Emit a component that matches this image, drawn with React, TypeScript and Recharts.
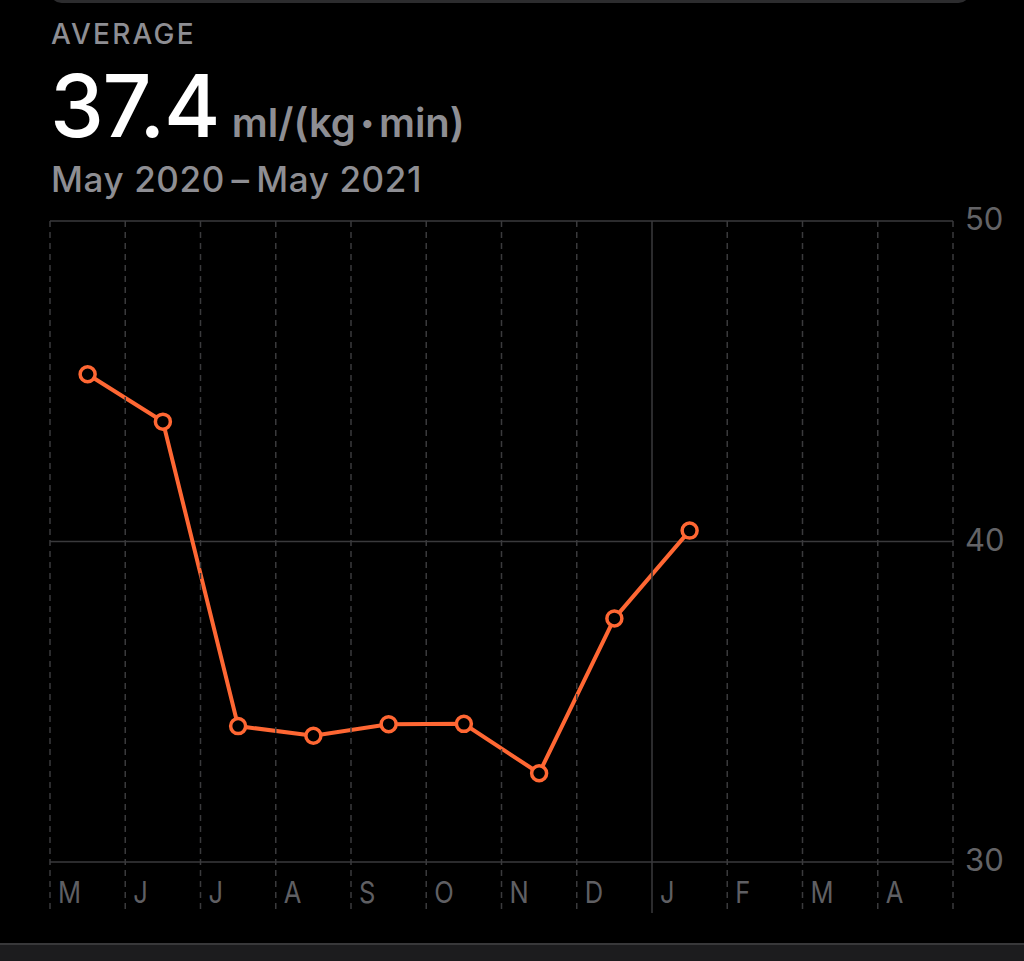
import { LineChart, Line, XAxis, YAxis, CartesianGrid } from "recharts";

const monthLabels = ["M", "J", "J", "A", "S", "O", "N", "D", "J", "F", "M", "A"];
const vo2Values = [45.22, 43.74, 34.24, 33.94, 34.3, 34.31, 32.77, 37.6, 40.34];
const yTicks = [30, 40, 50];

const data = monthLabels.map((m, i) => ({
  pos: i + 0.5,
  month: m,
  value: i < vo2Values.length ? vo2Values[i] : null,
}));

const ORANGE = "#ff6733";
const GRAY = "#8e8e93";
const PLOT_TOP = 221;

const MonthTick = (props: any) => {
  const { x, payload } = props;
  const i = payload.value;
  const isYearStart = i === 8;
  const bottom = isYearStart ? 913 : 910;
  const tx = x + 8;
  return (
    <g>
      <line
        x1={x}
        x2={x}
        y1={PLOT_TOP}
        y2={bottom}
        stroke="#3a3a3c"
        strokeWidth={1.5}
        strokeDasharray={isYearStart ? undefined : "6 5"}
      />
      {i < monthLabels.length && (
        <text
          x={tx}
          y={895}
          fill="#5f5f63"
          fontSize={30}
          fontFamily="Inter, 'Noto Sans', sans-serif"
          dominantBaseline="middle"
          transform={`translate(${tx} 0) scale(0.85 1) translate(${-tx} 0)`}
        >
          {monthLabels[i]}
        </text>
      )}
    </g>
  );
};

const ValueTick = (props: any) => {
  const { y, payload } = props;
  return (
    <text
      x={965}
      y={y + 1}
      fill="#636366"
      fontSize={31}
      fontFamily="Inter, 'Noto Sans', sans-serif"
      dominantBaseline="middle"
    >
      {payload.value}
    </text>
  );
};

const Dot = (props: any) => {
  const { cx, cy, value } = props;
  if (value == null || cx == null || cy == null) return null;
  return <circle cx={cx} cy={cy} r={7.5} fill="#000" stroke={ORANGE} strokeWidth={3.5} />;
};

export default function App() {
  return (
    <div
      style={{
        position: "absolute",
        left: 0,
        top: 0,
        width: 1024,
        height: 961,
        background: "#000",
        overflow: "hidden",
        fontFamily: "Inter, 'Noto Sans', sans-serif",
      }}
    >
      <div
        style={{
          position: "absolute",
          left: 50,
          top: -20,
          width: 920,
          height: 23,
          borderRadius: 14,
          background: "#2c2c2e",
        }}
      />
      <div
        style={{
          position: "absolute",
          left: 51,
          top: 18,
          fontSize: 28,
          fontWeight: 500,
          color: GRAY,
          letterSpacing: 2.2,
          lineHeight: 1.2,
        }}
      >
        AVERAGE
      </div>
      <div
        style={{
          position: "absolute",
          left: 50,
          top: 63,
          display: "flex",
          alignItems: "baseline",
          lineHeight: 1,
        }}
      >
        <span style={{ fontSize: 86, fontWeight: 500, color: "#fff", letterSpacing: -1.5 }}>37.4</span>
        <span style={{ fontSize: 40, fontWeight: 600, color: GRAY, marginLeft: 13 }}>
          ml/(kg<span style={{ fontSize: 26, margin: "0 5px", verticalAlign: "20%" }}>•</span>min)
        </span>
      </div>
      <div
        style={{
          position: "absolute",
          left: 51,
          top: 162,
          fontSize: 35,
          fontWeight: 500,
          color: GRAY,
          letterSpacing: 0.6,
          lineHeight: 1,
        }}
      >
        May 2020{"\u2009"}–{"\u2009"}May 2021
      </div>
      <div style={{ position: "absolute", left: 0, top: 0 }}>
        <LineChart
          width={1024}
          height={961}
          data={data}
          margin={{ top: PLOT_TOP, right: 0, left: 50, bottom: 39 }}
        >
          <CartesianGrid vertical={false} stroke="#3a3a3c" strokeWidth={1.5} />
          <XAxis
            dataKey="pos"
            type="number"
            domain={[0, 12]}
            ticks={[0, 1, 2, 3, 4, 5, 6, 7, 8, 9, 10, 11, 12]}
            interval={0}
            axisLine={false}
            tickLine={false}
            height={60}
            tick={<MonthTick />}
          />
          <YAxis
            orientation="right"
            type="number"
            domain={[30, 50]}
            ticks={yTicks}
            width={71}
            axisLine={false}
            tickLine={false}
            tick={<ValueTick />}
          />
          <Line
            dataKey="value"
            stroke={ORANGE}
            strokeWidth={4}
            dot={<Dot />}
            activeDot={false}
            isAnimationActive={false}
            connectNulls={false}
          />
        </LineChart>
      </div>
      <div
        style={{
          position: "absolute",
          left: 0,
          top: 943,
          width: 1024,
          height: 18,
          background: "#1c1c1e",
          borderTop: "2px solid #38383a",
        }}
      />
    </div>
  );
}
